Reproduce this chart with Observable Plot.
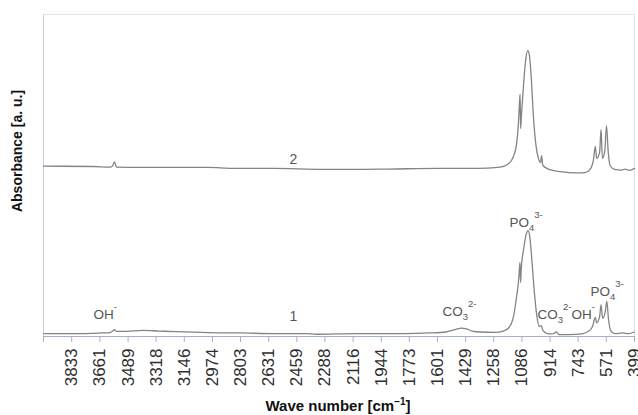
<!DOCTYPE html>
<html>
<head>
<meta charset="utf-8">
<script src="https://cdn.jsdelivr.net/npm/d3@7"></script>
<script src="https://cdn.jsdelivr.net/npm/@observablehq/plot@0.6"></script>
<style>
  html, body { margin: 0; padding: 0; background: #fff; }
  svg { display: block; }
</style>
</head>
<body>
<div id="chart"></div>
<script>
// ---- Data ----
// Tick labels on the wave-number axis (cm^-1)
const tickValues = [3833, 3661, 3489, 3318, 3146, 2974, 2803, 2631, 2459, 2288, 2116, 1944, 1773, 1601, 1429, 1258, 1086, 914, 743, 571, 399];
const xDomain = [4005, 399];

// Spectrum 1 (lower trace)
const wave1 = [4005, 3800, 3650, 3600, 3585, 3572, 3560, 3500, 3400, 3300, 3200, 3000, 2800, 2600, 2400, 2340, 2100, 1800, 1650, 1550, 1490, 1455, 1420, 1390, 1340, 1250, 1200, 1165, 1140, 1120, 1105, 1098, 1094, 1090, 1075, 1060, 1048, 1038, 1025, 1010, 995, 980, 967, 958, 930, 900, 875, 860, 800, 720, 680, 655, 638, 630, 612, 603, 594, 578, 568, 558, 545, 520, 470, 440, 399];
const abs1  = [0.009, 0.009, 0.011, 0.012, 0.016, 0.021, 0.016, 0.016, 0.019, 0.017, 0.015, 0.012, 0.011, 0.009, 0.009, 0.007, 0.009, 0.009, 0.011, 0.014, 0.022, 0.026, 0.023, 0.017, 0.014, 0.013, 0.017, 0.028, 0.056, 0.118, 0.180, 0.230, 0.168, 0.211, 0.273, 0.317, 0.329, 0.311, 0.236, 0.137, 0.065, 0.031, 0.034, 0.019, 0.009, 0.008, 0.014, 0.006, 0.006, 0.008, 0.016, 0.031, 0.059, 0.043, 0.062, 0.099, 0.056, 0.075, 0.109, 0.056, 0.019, 0.009, 0.011, 0.009, 0.014];

// Spectrum 2 (upper trace, offset)
const wave2 = [4005, 3700, 3600, 3585, 3572, 3560, 3400, 3000, 2850, 2600, 2300, 2100, 1900, 1600, 1400, 1300, 1220, 1170, 1140, 1120, 1108, 1100, 1097, 1094, 1090, 1075, 1062, 1050, 1040, 1028, 1015, 1000, 985, 972, 966, 958, 920, 850, 760, 700, 670, 650, 638, 630, 612, 603, 595, 580, 570, 560, 548, 520, 475, 460, 430, 399];
const abs2  = [0.529, 0.528, 0.526, 0.529, 0.542, 0.526, 0.525, 0.525, 0.522, 0.522, 0.519, 0.519, 0.520, 0.522, 0.522, 0.523, 0.526, 0.536, 0.556, 0.593, 0.655, 0.733, 0.752, 0.646, 0.677, 0.789, 0.863, 0.888, 0.873, 0.795, 0.677, 0.593, 0.553, 0.540, 0.562, 0.531, 0.519, 0.512, 0.508, 0.509, 0.519, 0.547, 0.590, 0.553, 0.571, 0.643, 0.553, 0.578, 0.655, 0.578, 0.531, 0.519, 0.517, 0.520, 0.516, 0.522];

// Band annotations ("_" = subscript, "^" = superscript)
const annText = ["OH^-", "CO_3^2-", "PO_4^3-", "CO_3^2-OH^-", "PO_4^3-"];
const annWave = [3700, 1571, 1162, 991, 668];
const annAbs  = [0.068, 0.078, 0.354, 0.068, 0.140];

// Trace numbers
const traceLabel = ["1", "2"];
const traceWave  = [2480, 2480];
const traceAbs   = [0.062, 0.55];

// ---- Build tables ----
const spec1 = wave1.map((w, i) => ({w, a: abs1[i]}));
const spec2 = wave2.map((w, i) => ({w, a: abs2[i]}));
const ann = annText.map((t, i) => ({t, w: annWave[i], a: annAbs[i]}));
const trace = traceLabel.map((t, i) => ({t, w: traceWave[i], a: traceAbs[i]}));

const font = "'Liberation Sans', Arial, Helvetica, sans-serif";
const axisColor = "#a9adc8";
const lineColor = "#848484";
const textGray = "#555555";

const chart = Plot.plot({
  width: 638,
  height: 415,
  marginLeft: 43,
  marginRight: 4,
  marginTop: 14,
  marginBottom: 79,
  style: {fontFamily: font, background: "#fff", overflow: "visible"},
  x: {domain: xDomain, label: null},
  y: {domain: [0, 1], axis: null},
  marks: [
    Plot.frame({stroke: "#e2e2e2"}),
    Plot.ruleX([xDomain[0]], {stroke: "#c9cde2"}),
    Plot.ruleY([0], {stroke: axisColor}),
    Plot.axisX({ticks: [xDomain[0], ...tickValues], tickSize: 6, tickFormat: () => "", color: axisColor, label: null}),
    Plot.axisX({ticks: tickValues, tickSize: 0, tickPadding: 12, tickRotate: -90, tickFormat: d => String(d), fontSize: 17, color: "#2e2e2e", label: null}),
    Plot.line(spec2, {x: "w", y: "a", stroke: lineColor, strokeWidth: 1.3, curve: "monotone-x"}),
    Plot.line(spec1, {x: "w", y: "a", stroke: lineColor, strokeWidth: 1.3, curve: "monotone-x"}),
    Plot.text(trace, {x: "w", y: "a", text: "t", fill: textGray, fontSize: 14, textAnchor: "middle", lineAnchor: "middle"}),
    Plot.text(ann, {x: "w", y: "a", text: "t", fill: textGray, fontSize: 13.5, textAnchor: "start", lineAnchor: "middle"})
  ]
});

// Rebuild annotation texts with real sub/superscripts
d3.select(chart).selectAll("text").each(function () {
  const t = d3.select(this);
  const s = t.text();
  if (!/[_^]/.test(s)) return;
  t.text(null);
  const re = /_(\d+)|\^(\d*[-+])|([^_^]+)/g;
  let m, shift = 0;
  while ((m = re.exec(s))) {
    let target, str, small;
    if (m[1]) { target = 4; str = m[1]; small = true; }
    else if (m[2]) { target = -8.5; str = m[2]; small = true; }
    else { target = 0; str = m[3]; small = false; }
    const sp = t.append("tspan").attr("dy", target - shift).text(str);
    if (small) sp.attr("font-size", 9.5);
    shift = target;
  }
});

// Axis titles
const svg = d3.select(chart);
const xt = svg.append("text")
  .attr("x", 338).attr("y", 411)
  .attr("text-anchor", "middle")
  .attr("font-family", font).attr("font-weight", "bold").attr("font-size", 15)
  .attr("fill", "#111");
xt.append("tspan").text("Wave number [cm");
xt.append("tspan").attr("dy", -6).attr("font-size", 10).text("\u22121");
xt.append("tspan").attr("dy", 6).text("]");

svg.append("text")
  .attr("transform", "translate(22,151) rotate(-90)")
  .attr("text-anchor", "middle")
  .attr("font-family", font).attr("font-weight", "bold").attr("font-size", 14)
  .attr("fill", "#111")
  .text("Absorbance [a. u.]");

document.getElementById("chart").appendChild(chart);
</script>
</body>
</html>
